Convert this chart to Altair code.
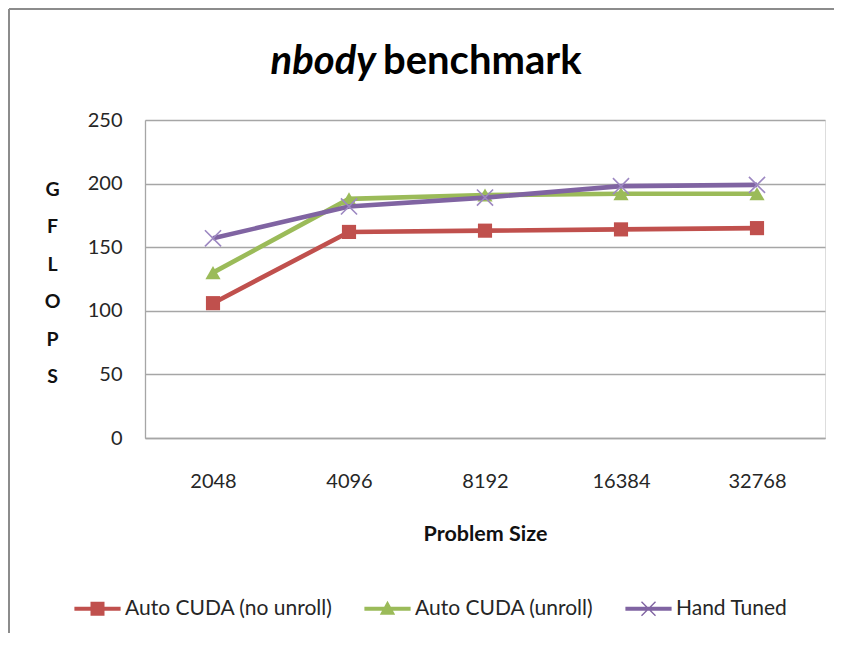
import altair as alt
import pandas as pd

# ---- data ----
sizes = ["2048", "4096", "8192", "16384", "32768"]
series_names = ["Auto CUDA (no unroll)", "Auto CUDA (unroll)", "Hand Tuned"]
no_unroll = [106, 162, 163, 164, 165]
unroll = [130, 188, 191, 192, 192]
hand_tuned = [157, 182, 189, 198, 199]
y_ticks = [0, 50, 100, 150, 200, 250]
title_italic = "nbody"
title_rest = "benchmark"
x_title = "Problem Size"
y_title = ["G", "F", "L", "O", "P", "S"]

colors = ["#C0504D", "#9BBB59", "#8064A2"]

rows = []
for name, vals in zip(series_names, [no_unroll, unroll, hand_tuned]):
    for s, v in zip(sizes, vals):
        rows.append({"size": s, "series": name, "value": v})
df = pd.DataFrame(rows)

W, H = 680, 318
FONT = "Lato"

x_enc = alt.X(
    "size:N",
    sort=sizes,
    scale=alt.Scale(type="point", padding=0.5, domain=sizes),
    axis=alt.Axis(
        title=x_title, labelAngle=0, ticks=False, grid=False,
        domainColor="#a6a6a6", domainWidth=1.3,
        labelFontSize=20, labelFont=FONT, labelColor="#262626", labelPadding=33,
        titleFont=FONT, titleFontSize=21.5, titleFontWeight="bold", titleColor="#111111",
        titleX=W / 2, titleY=96, titleBaseline="middle", titleAnchor="middle"
    ),
)
y_enc = alt.Y(
    "value:Q",
    scale=alt.Scale(domain=[0, 250], nice=False, zero=True),
    axis=alt.Axis(
        values=y_ticks, ticks=False, grid=True, gridColor="#a6a6a6", gridWidth=1.3,
        domainColor="#a6a6a6", domainWidth=1.3,
        labelFontSize=20, labelFont=FONT, labelColor="#262626", labelPadding=23,
        title=y_title, titleAngle=0, titleFont=FONT, titleFontSize=19.5,
        titleFontWeight="bold", titleColor="#111111", titleLineHeight=37.5,
        titleX=-93, titleY=69, titleAlign="center", titleBaseline="middle"
    ),
)

marker_props = [
    dict(shape="square", filled=True, size=200, opacity=1),
    dict(shape="triangle-up", filled=True, size=230, opacity=1),
    dict(shape="M-1,-1L1,1M-1,1L1,-1", filled=False, size=260, strokeWidth=1.6, opacity=1),
]
marker_colors = ["#C0504D", "#9BBB59", "#9d88c2"]

layers = []
for name, col, mp, mcol in zip(series_names, colors, marker_props, marker_colors):
    base = alt.Chart(df).transform_filter(alt.datum.series == name)
    layers.append(base.mark_line(color=col, strokeWidth=4.6).encode(x=x_enc, y=y_enc))
    layers.append(base.mark_point(color=mcol, **mp).encode(x=x_enc, y=y_enc))

# legend symbols: line + marker combined paths
legend_paths = [
    "M-3.3,-0.3H-1V-1H1V-0.3H3.3V0.3H1V1H-1V0.3H-3.3Z",
    "M-3.3,-0.3H3.3V0.3H-3.3Z M0,-1.15L1.1,0.85H-1.1Z",
    "M-3.3,-0.3H3.3V0.3H-3.3Z M-0.93,-1.07L1.07,0.93L0.93,1.07L-1.07,-0.93Z M0.93,-1.07L1.07,-0.93L-0.93,1.07L-1.07,0.93Z",
]
leg = alt.Legend(
    title=None, orient="none", direction="horizontal", legendX=-58, legendY=478,
    columnPadding=31, labelOffset=17, symbolSize=196, symbolStrokeWidth=0,
    labelFontSize=21, labelFont=FONT, labelColor="#262626", labelLimit=400,
    padding=0, symbolOpacity=1,
)
legend_layer = alt.Chart(df).transform_filter("false").mark_point(
    filled=True, size=196, opacity=1, strokeWidth=0
).encode(
    color=alt.Color("series:N", scale=alt.Scale(domain=series_names, range=colors), legend=leg),
    shape=alt.Shape("series:N", scale=alt.Scale(domain=series_names, range=legend_paths), legend=leg),
)

one = alt.Data(values=[{}])
t1 = alt.Chart(one).mark_text(
    font=FONT, fontSize=40, fontWeight="bold", fontStyle="italic", align="right",
    baseline="middle", color="#000000"
).encode(x=alt.value(231), y=alt.value(-58), text=alt.value(title_italic))
t2 = alt.Chart(one).mark_text(
    font=FONT, fontSize=40, fontWeight="bold", align="left", baseline="middle", color="#000000"
).encode(x=alt.value(238), y=alt.value(-58), text=alt.value(title_rest))

border_top = alt.Chart(one).mark_rule(color="#8c8c8c", strokeWidth=2).encode(
    x=alt.value(-136), x2=alt.value(W + 9), y=alt.value(-111)
)
border_left = alt.Chart(one).mark_rule(color="#8c8c8c", strokeWidth=2).encode(
    x=alt.value(-136), y=alt.value(-111), y2=alt.value(H + 195)
)

chart = alt.layer(border_top, border_left, *layers, legend_layer, t1, t2).properties(
    width=W, height=H,
    autosize=alt.AutoSizeParams(type="none"),
    padding={"left": 137, "top": 112, "right": 9, "bottom": 195},
).configure_view(stroke=None).configure(background="white")

chart.save("out.html", embed_options={"renderer": "svg", "actions": False})
